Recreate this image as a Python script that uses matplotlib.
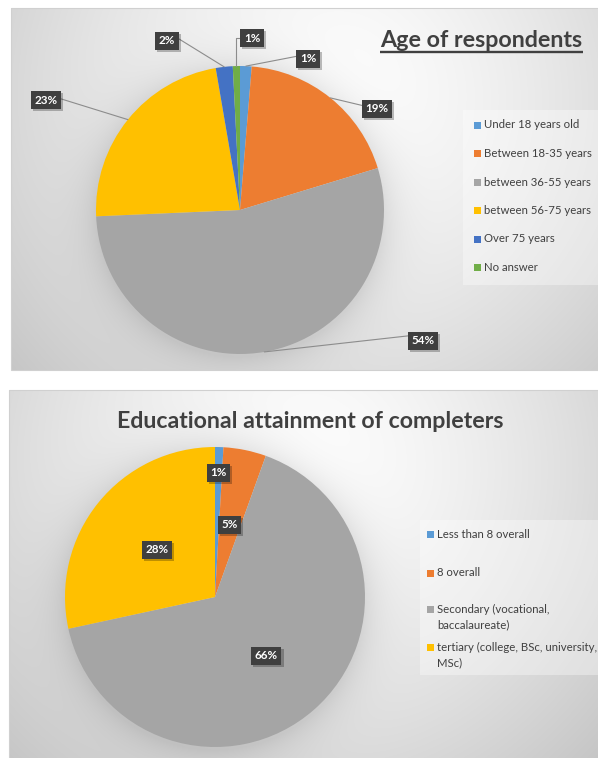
import numpy as np
import matplotlib
matplotlib.use('Agg')
import matplotlib.pyplot as plt
from matplotlib.patches import Rectangle
import matplotlib.patheffects as pe

# ---------------- data ----------------
age_title = 'Age of respondents'
age_categories = ['Under 18 years old', 'Between 18-35 years', 'between 36-55 years',
                  'between 56-75 years', 'Over 75 years', 'No answer']
age_values = [1.3, 19.0, 54.0, 23.0, 1.9, 0.8]

edu_title = 'Educational attainment of completers'
edu_categories = ['Less than 8 overall', '8 overall',
                  'Secondary (vocational,\nbaccalaureate)',
                  'tertiary (college, BSc, university,\nMSc)']
edu_values = [0.9, 4.6, 66.1, 28.4]

# ---------------- style ----------------
age_colors = ['#5B9BD5', '#ED7D31', '#A5A5A5', '#FFC000', '#4472C4', '#70AD47']
edu_colors = ['#5B9BD5', '#ED7D31', '#A5A5A5', '#FFC000']
TXT = '#404040'
FONT = 'Lato'

W, H = 598, 758
plt.rcParams['font.family'] = [FONT, 'DejaVu Sans']

fig = plt.figure(figsize=(W / 100, H / 100), dpi=100)
ax = fig.add_axes([0, 0, 1, 1])
renderer = fig.canvas.get_renderer()


def text_width(s, fs, weight='normal'):
    t = ax.text(0, 0, s, fontsize=fs, fontweight=weight)
    wdt = t.get_window_extent(renderer=renderer).width
    t.remove()
    return wdt


def fit_size(s, width, weight='normal'):
    return 10 * width / text_width(s, 10, weight)


# ---------------- background panels (gradient + pie glow) ----------------
P1 = dict(cx=240, cy=210, r=144)
P2 = dict(cx=215, cy=597, r=150)

yy, xx = np.mgrid[0:H, 0:W] + 0.5
bg = np.ones((H, W))
m1 = (xx >= 11) & (yy >= 8) & (yy <= 370)
d1 = np.hypot(xx - 330, yy - 100)
g1 = 1 - 0.21 * np.clip(d1 / 400, 0, 1.3) ** 1.4
dp1 = np.hypot(xx - P1['cx'], yy - P1['cy'] - 3)
g1 = g1 - 0.10 * np.exp(-np.clip(dp1 - P1['r'], 0, None) / 20)
bg[m1] = g1[m1]
m2 = (xx >= 9) & (yy >= 390)
d2 = np.hypot(xx - 300, yy - 470)
g2 = 1 - 0.23 * np.clip(d2 / 420, 0, 1.3) ** 1.4
dp2 = np.hypot(xx - P2['cx'], yy - P2['cy'] - 3)
g2 = g2 - 0.10 * np.exp(-np.clip(dp2 - P2['r'], 0, None) / 20)
bg[m2] = g2[m2]
ax.imshow(np.dstack([bg] * 3), extent=(0, W, H, 0), origin='upper', zorder=0,
          interpolation='bilinear')
ax.add_patch(Rectangle((11, 8), W, 362, fill=False, ec='#d0d0d0', lw=0.8, zorder=0.5))
ax.add_patch(Rectangle((9, 390), W, H, fill=False, ec='#d0d0d0', lw=0.8, zorder=0.5))


def pct(v, vals):
    return f"{round(100 * v / sum(vals)):.0f}%"


box_style = dict(boxstyle='square,pad=0.3', fc='#3f3f3f', ec='none')
label_fs = fit_size('54%', 23, 'bold')


def add_shadow(t):
    t.get_bbox_patch().set_path_effects(
        [pe.withSimplePatchShadow(offset=(1.5, -1.5), shadow_rgbFace='k', alpha=0.25),
         pe.Normal()])


# ---------------- pie 1 ----------------
w1, _ = ax.pie(age_values, colors=age_colors, startangle=-90, counterclock=True,
               center=(P1['cx'], P1['cy']), radius=P1['r'],
               wedgeprops=dict(linewidth=0), frame=True)
# label placement (pixel offsets from pie center) and leader attachment point on box
lab_off1 = [(68, -151), (137, -101), (183, 131), (-194, -110), (-73, -169), (12, -172)]
lab_rel1 = [(0, 0.8), (0, 0.75), (0, 1.0), (1, 0.7), (1, 0.9), (0, 0.5)]
lab_con1 = ['arc3', 'arc3', 'arc3', 'arc3', 'arc3', 'angle,angleA=0,angleB=90,rad=0']
for w, v, off, rel, con in zip(w1, age_values, lab_off1, lab_rel1, lab_con1):
    mid = np.deg2rad((w.theta1 + w.theta2) / 2)
    ex = P1['cx'] + P1['r'] * np.cos(mid)
    ey = P1['cy'] + P1['r'] * np.sin(mid)
    t = ax.annotate(pct(v, age_values), xy=(ex, ey),
                    xytext=(P1['cx'] + off[0], P1['cy'] + off[1]), textcoords='data',
                    ha='center', va='center', color='white', fontsize=label_fs,
                    fontweight='bold', bbox=box_style, zorder=5,
                    arrowprops=dict(arrowstyle='-', color='#8c8c8c', lw=0.8,
                                    shrinkA=0, shrinkB=0, relpos=rel,
                                    connectionstyle=con))
    add_shadow(t)

# ---------------- pie 2 ----------------
w2, _ = ax.pie(edu_values, colors=edu_colors, startangle=-90, counterclock=True,
               center=(P2['cx'], P2['cy']), radius=P2['r'],
               wedgeprops=dict(linewidth=0), frame=True)
lab_r2 = [0.83, 0.49, 0.52, 0.50]
for w, v, rf in zip(w2, edu_values, lab_r2):
    mid = np.deg2rad((w.theta1 + w.theta2) / 2)
    lx = P2['cx'] + rf * P2['r'] * np.cos(mid)
    ly = P2['cy'] + rf * P2['r'] * np.sin(mid)
    t = ax.text(lx, ly, pct(v, edu_values), ha='center', va='center', color='white',
                fontsize=label_fs, fontweight='bold', bbox=box_style, zorder=5)
    add_shadow(t)

ax.set_xlim(0, W)
ax.set_ylim(H, 0)
ax.set_aspect('auto')
ax.axis('off')

# ---------------- titles ----------------
t1 = ax.text(380, 47, age_title, ha='left', va='baseline',
             fontsize=fit_size(age_title, 203, 'bold'),
             fontweight='bold', color=TXT, zorder=6)
ax.plot([380, 583], [51.5, 51.5], color=TXT, lw=1.7, solid_capstyle='butt', zorder=6)

t2 = ax.text(117, 428, edu_title, ha='left', va='baseline',
             fontsize=fit_size(edu_title, 388, 'bold'),
             fontweight='bold', color=TXT, zorder=6)

# ---------------- legends ----------------
ax.add_patch(Rectangle((463, 110), 140, 175, fc='white', ec='none', alpha=0.35, zorder=3))
leg1_y = [125, 153.5, 182, 210.5, 239, 267.5]
leg_fs1 = fit_size(age_categories[1], 108)
for cat, col, y in zip(age_categories, age_colors, leg1_y):
    ax.add_patch(Rectangle((474, y - 3.5), 7, 7, fc=col, ec='none', zorder=4))
    ax.text(484, y, cat, ha='left', va='center', fontsize=leg_fs1, color=TXT, zorder=4)

ax.add_patch(Rectangle((420, 520), 182, 155, fc='white', ec='none', alpha=0.35, zorder=3))
leg2_y = [534, 573, 609, 647]
leg_fs2 = fit_size(edu_categories[3].split('\n')[0], 160)
for cat, col, y in zip(edu_categories, edu_colors, leg2_y):
    ax.add_patch(Rectangle((427, y - 3.5), 7, 7, fc=col, ec='none', zorder=4))
    for i, line in enumerate(cat.split('\n')):
        ax.text(437, y + 16 * i, line, ha='left', va='center', fontsize=leg_fs2,
                color=TXT, zorder=4)

fig.savefig('out.png', dpi=100)
